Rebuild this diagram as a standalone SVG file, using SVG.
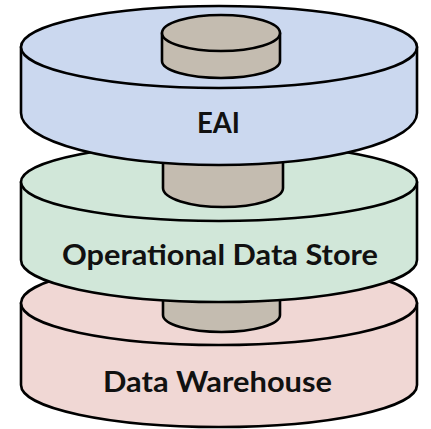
<svg xmlns="http://www.w3.org/2000/svg" width="431" height="429" viewBox="0 0 431 429">
<style>
.s{stroke:#000;stroke-width:2.6;stroke-linejoin:round}
.blue{fill:#cbd8ef}
.green{fill:#d1e7d9}
.red{fill:#f0d7d4}
.cyl{fill:#c4bcb0}
.t{font-family:Lato,"Open Sans",sans-serif;font-weight:bold;font-size:29px;fill:#111;text-anchor:middle}
</style>
<g id="dw">
<path class="s red" d="M21 303 L21 385 A198 42 0 0 0 417 385 L417 303 Z"/>
<ellipse class="s red" cx="219" cy="303" rx="198" ry="42"/>
<text class="t" x="217.5" y="392" textLength="229" lengthAdjust="spacingAndGlyphs">Data Warehouse</text>
</g>
<g id="link2">
<path class="s cyl" d="M163 290 L163 315 A58.5 17 0 0 0 280 315 L280 290 Z"/>
</g>
<g id="ods">
<path class="s green" d="M21 182 L21 260 A198 42 0 0 0 417 260 L417 182 Z"/>
<ellipse class="s green" cx="219" cy="182" rx="198" ry="39"/>
<text class="t" x="220" y="265" textLength="316" lengthAdjust="spacingAndGlyphs">Operational Data Store</text>
</g>
<g id="link1">
<path class="s cyl" d="M163 160 L163 188 A60 19 0 0 0 283 188 L283 160 Z"/>
</g>
<g id="eai">
<path class="s blue" d="M21 47 L21 113 A198 52 0 0 0 417 113 L417 47 Z"/>
<ellipse class="s blue" cx="219" cy="47" rx="198" ry="41"/>
<text class="t" x="218.5" y="133" textLength="43" lengthAdjust="spacingAndGlyphs">EAI</text>
</g>
<g id="top">
<path class="s cyl" d="M162 33 L162 61 A59 17 0 0 0 280 61 L280 33 Z"/>
<ellipse class="s cyl" cx="221" cy="33" rx="59" ry="18"/>
</g>
</svg>
